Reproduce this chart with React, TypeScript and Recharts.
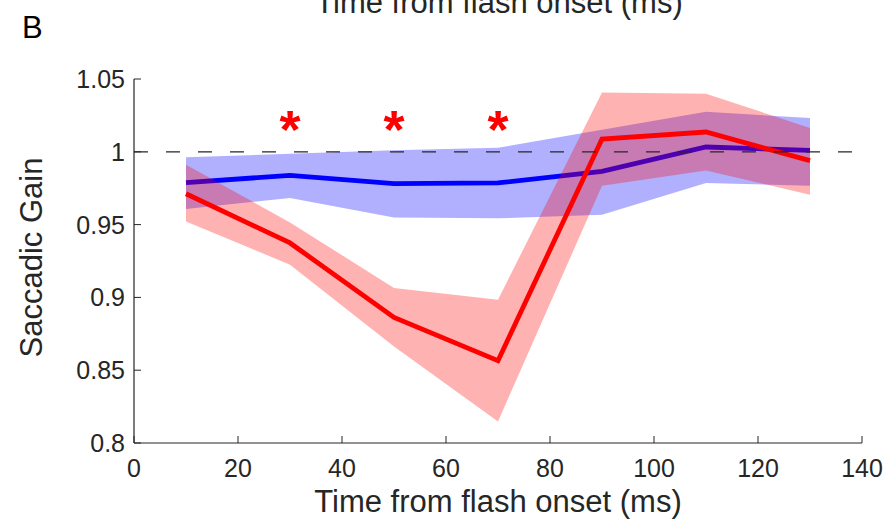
import { Area, ComposedChart, Line, ReferenceLine, Scatter, XAxis, YAxis } from "recharts";

const times = [10, 30, 50, 70, 90, 110, 130];
const blueMean = [0.9788, 0.9838, 0.9781, 0.9786, 0.9865, 1.0033, 1.001];
const blueLow = [0.9607, 0.9683, 0.9549, 0.9543, 0.9568, 0.9786, 0.9767];
const blueHigh = [0.9962, 0.9987, 1.001, 1.0028, 1.0152, 1.0275, 1.0232];
const redMean = [0.9712, 0.9374, 0.8863, 0.8565, 1.0088, 1.0136, 0.9939];
const redLow = [0.9522, 0.9225, 0.8663, 0.8148, 0.9767, 0.9872, 0.9705];
const redHigh = [0.9911, 0.9515, 0.9065, 0.8984, 1.0408, 1.0399, 1.0163];

const starTimes = [30, 50, 70];
const starGain = [1.0207, 1.0207, 1.0207];

const xTicks = [0, 20, 40, 60, 80, 100, 120, 140];
const yTicks = [0.8, 0.85, 0.9, 0.95, 1, 1.05];

const AXIS = "#262626";
const FONT = "'Liberation Sans', Arial, sans-serif";

const rows = times.map((t, i) => ({
  x: t,
  blue: blueMean[i],
  blueBand: [blueLow[i], blueHigh[i]],
  red: redMean[i],
  redBand: [redLow[i], redHigh[i]],
}));

const stars = starTimes.map((t, i) => ({ x: t, gain: starGain[i] }));

function XTick(props: any) {
  const { x, y, payload } = props;
  return (
    <g>
      <line x1={x} y1={y} x2={x} y2={y - 7} stroke={AXIS} strokeWidth={1} />
      <text x={x} y={y + 34} textAnchor="middle" fontSize={25} fontFamily={FONT} fill={AXIS}>
        {payload.value}
      </text>
    </g>
  );
}

function YTick(props: any) {
  const { x, y, payload } = props;
  return (
    <g>
      <line x1={x} y1={y} x2={x + 7} y2={y} stroke={AXIS} strokeWidth={1} />
      <text x={x - 9} y={y + 9} textAnchor="end" fontSize={25} fontFamily={FONT} fill={AXIS}>
        {String(payload.value)}
      </text>
    </g>
  );
}

// bold red asterisk marking significant time bins
function Star(props: any) {
  const { cx, cy } = props;
  return (
    <text x={cx} y={cy + 26} textAnchor="middle" fontSize={54} fontWeight="bold" fontFamily={FONT} fill="#ff0000">
      *
    </text>
  );
}

export default function App() {
  return (
    <div style={{ position: "absolute", left: 0, top: 0, width: 888, height: 527, background: "#fff" }}>
      <ComposedChart width={888} height={527} data={rows} margin={{ top: 79, right: 26, bottom: 0, left: 0 }}>
        <XAxis
          dataKey="x"
          type="number"
          domain={[0, 140]}
          ticks={xTicks}
          height={84}
          tickSize={0}
          tickMargin={0}
          tickLine={false}
          tick={<XTick />}
          axisLine={{ stroke: AXIS, strokeWidth: 1.2 }}
        />
        <YAxis
          type="number"
          domain={[0.8, 1.05]}
          ticks={yTicks}
          width={134}
          tickSize={0}
          tickMargin={0}
          tickLine={false}
          tick={<YTick />}
          axisLine={{ stroke: AXIS, strokeWidth: 1.2 }}
          allowDataOverflow
        />
        <Area type="linear" dataKey="blueBand" stroke="none" fill="#0000ff" fillOpacity={0.31} isAnimationActive={false} zIndex={100} />
        <Line type="linear" dataKey="blue" stroke="#0000ff" strokeWidth={4.8} dot={false} isAnimationActive={false} zIndex={101} />
        <Area type="linear" dataKey="redBand" stroke="none" fill="#ff0000" fillOpacity={0.3} isAnimationActive={false} zIndex={102} />
        <Line type="linear" dataKey="red" stroke="#ff0000" strokeWidth={4.8} dot={false} isAnimationActive={false} zIndex={103} />
        <ReferenceLine y={1} stroke={AXIS} strokeWidth={1.3} strokeDasharray="14 18" zIndex={104} />
        <Scatter data={stars} dataKey="gain" shape={<Star />} isAnimationActive={false} zIndex={105} />
      </ComposedChart>
      <svg width={888} height={527} style={{ position: "absolute", left: 0, top: 0, pointerEvents: "none" }}>
        <text x={22} y={38} fontSize={31} fontFamily={FONT} fill="#000">B</text>
        <text x={499} y={13} textAnchor="middle" fontSize={31} fontFamily={FONT} fill={AXIS}>
          Time from flash onset (ms)
        </text>
        <text x={498} y={512} textAnchor="middle" fontSize={31} fontFamily={FONT} fill={AXIS}>
          Time from flash onset (ms)
        </text>
        <text x={42} y={257.5} transform="rotate(-90 42 257.5)" textAnchor="middle" fontSize={31} fontFamily={FONT} fill={AXIS}>
          Saccadic Gain
        </text>
      </svg>
    </div>
  );
}
